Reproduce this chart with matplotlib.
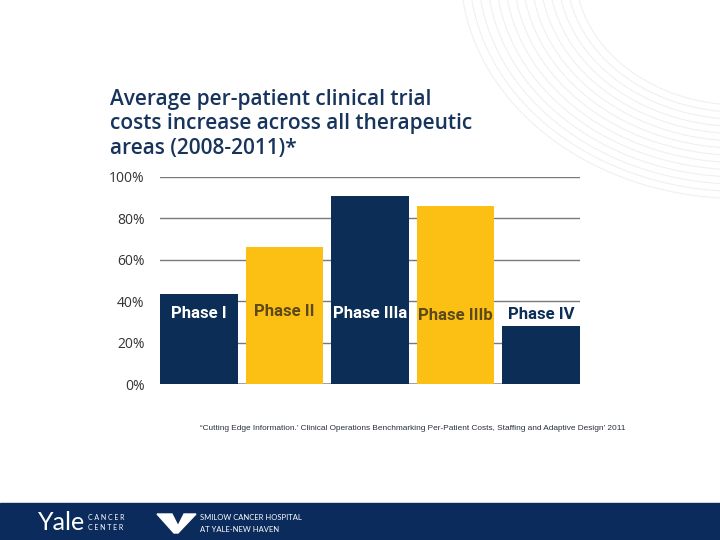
import numpy as np
import matplotlib
matplotlib.use('Agg')
import matplotlib.pyplot as plt
from matplotlib.patches import Rectangle, Polygon

# Chart data
phases = ['Phase I', 'Phase II', 'Phase IIIa', 'Phase IIIb', 'Phase IV']
cost_increase = [43.5, 66, 91, 86, 28]
yticks = [0, 20, 40, 60, 80, 100]
ytick_labels = ['0%', '20%', '40%', '60%', '80%', '100%']

navy = '#0c2d55'
gold = '#fcbf14'
bar_colors = [navy, gold, navy, gold, navy]
label_colors = ['white', '#5b4a17', 'white', '#5b4a17', navy]
label_y = [34, 35, 34, 33, 33.5]

plt.rcParams['font.family'] = ['Lato', 'DejaVu Sans']

fig = plt.figure(figsize=(7.2, 5.4), dpi=100)

# faint decorative arcs in the top right corner
bg = fig.add_axes([0, 0, 1, 1], zorder=-5)
bg.set_xlim(0, 720)
bg.set_ylim(540, 0)
bg.axis('off')
t = np.linspace(0, np.pi / 2, 100)
for r in np.arange(150, 260, 8):
    bg.plot(740 - r * np.cos(t) * 1.1, -30 + r * np.sin(t) * 0.9, color='#f0f0f3', lw=0.8)
bg.add_patch(Rectangle((0, 503), 720, 37, color='#0b2b5c', zorder=2))

# footer logos
bg.text(38, 522, 'Yale', color='white', fontsize=18, family='Lato', va='center', zorder=3)
bg.text(88, 517, 'C A N C E R', color='white', fontsize=5, va='center', zorder=3)
bg.text(88, 528, 'C E N T E R', color='white', fontsize=5, va='center', zorder=3)
bg.add_patch(Polygon([(157, 514), (172, 514), (178, 526), (184, 514), (196, 514),
                      (178, 533), (174, 533)], color='white', zorder=3))
bg.text(200, 518, 'SMILOW CANCER HOSPITAL', color='white', fontsize=5.5, va='center', zorder=3)
bg.text(200, 529, 'AT YALE-NEW HAVEN', color='white', fontsize=5.5, va='center', zorder=3)

# footnote
bg.text(200, 428, "\u201cCutting Edge Information.\u2019 Clinical Operations Benchmarking Per-Patient Costs, "
        "Staffing and Adaptive Design\u2019 2011", color='#2a3040', fontsize=5.95, va='center',
        family='Liberation Sans')

# title
bg.text(110, 124, 'Average per-patient clinical trial\ncosts increase across all therapeutic\n'
        'areas (2008-2011)*', color='#17345c', fontsize=15, fontweight='semibold',
        va='center', linespacing=1.2, family='Open Sans')

ax = fig.add_axes([160 / 720, 1 - 384 / 540, 420 / 720, 207 / 540])
x = np.arange(len(phases))
ax.bar(x, cost_increase, width=0.91, color=bar_colors, zorder=3)
ax.set_xlim(-0.455, len(phases) - 1 + 0.455)
ax.set_ylim(0, 100)
ax.set_yticks(yticks)
ax.set_yticklabels(ytick_labels, fontsize=10, color='#333333', family='Open Sans')
ax.tick_params(axis='y', length=0, pad=11)
ax.set_xticks([])
ax.grid(axis='y', color='#7a7a7a', lw=1, zorder=0)
for s in ax.spines.values():
    s.set_visible(False)
ax.axhline(0, color='#9a9a9a', lw=2, zorder=2)

for xi, name, c, ly in zip(x, phases, label_colors, label_y):
    ax.text(xi, ly, name, ha='center', va='center', color=c, fontsize=12,
            fontweight='bold', family='Roboto', zorder=4)

plt.savefig('out.png', dpi=100)
